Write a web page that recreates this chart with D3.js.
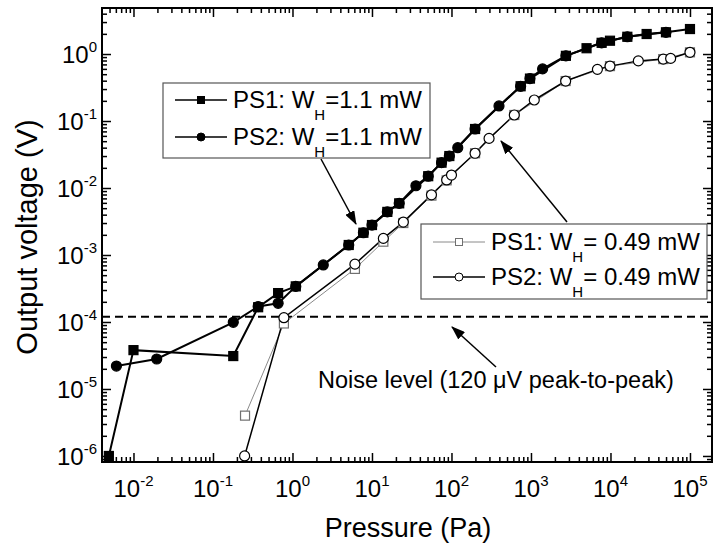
<!DOCTYPE html>
<html>
<head>
<meta charset="utf-8">
<script src="https://cdn.jsdelivr.net/npm/d3@7"></script>
<style>
  body { margin: 0; background: #fff; }
  svg { display: block; }
  text { font-family: Arial, "Liberation Sans", sans-serif; fill: #000; }
</style>
</head>
<body>
<svg id="chart" width="713" height="554"></svg>
<script>
// PS1, W_H = 1.1 mW (filled squares)
const ps1HighP = [0.0049, 0.010, 0.18, 0.37, 0.66, 1.1, 5.1, 7.8, 10, 15.6, 22, 51, 75, 94, 198, 741, 971, 2750, 5000, 7740, 9860, 16300, 28500, 49900, 100000];
const ps1HighV = [1.0e-6, 3.8e-5, 3.1e-5, 1.66e-4, 2.7e-4, 3.4e-4, 1.41e-3, 2.15e-3, 2.8e-3, 4.4e-3, 5.9e-3, 1.5e-2, 2.39e-2, 3.0e-2, 7.6e-2, 0.33, 0.43, 0.94, 1.22, 1.47, 1.58, 1.81, 1.99, 2.11, 2.36];
// PS2, W_H = 1.1 mW (filled circles)
const ps2HighP = [0.0061, 0.0196, 0.18, 0.37, 0.66, 1.1, 2.44, 5.1, 7.8, 10, 15.6, 22, 35.7, 51, 75, 94, 120, 198, 396, 741, 971, 1400, 2750, 7740, 16300, 49900];
const ps2HighV = [2.2e-5, 2.8e-5, 9.9e-5, 1.7e-4, 1.9e-4, 3.4e-4, 7.1e-4, 1.41e-3, 2.15e-3, 2.8e-3, 4.4e-3, 5.9e-3, 1.08e-2, 1.5e-2, 2.39e-2, 3.0e-2, 4.0e-2, 7.6e-2, 0.168, 0.33, 0.43, 0.60, 0.94, 1.47, 1.81, 2.11];
// PS1, W_H = 0.49 mW (open squares, grey)
const ps1LowP = [0.253, 0.78, 6.1, 13.9, 24.8, 56, 87, 198, 617, 2730, 9860, 46100, 100000];
const ps1LowV = [4.0e-6, 9.5e-5, 6.2e-4, 1.58e-3, 3.0e-3, 7.7e-3, 1.3e-2, 3.3e-2, 0.123, 0.395, 0.66, 0.84, 1.06];
// PS2, W_H = 0.49 mW (open circles)
const ps2LowP = [0.25, 0.78, 6.1, 13.9, 24.8, 56, 87, 100, 198, 297, 617, 1100, 2730, 6850, 9860, 22400, 46100, 57100, 100000];
const ps2LowV = [1.0e-6, 1.16e-4, 7.3e-4, 1.77e-3, 3.1e-3, 7.9e-3, 1.32e-2, 1.56e-2, 3.3e-2, 5.5e-2, 0.123, 0.206, 0.395, 0.59, 0.66, 0.79, 0.84, 0.86, 1.06];

const noiseLevel = 1.2e-4;
const xExponents = [-2, -1, 0, 1, 2, 3, 4, 5];
const yExponents = [-6, -5, -4, -3, -2, -1, 0];

const svg = d3.select('#chart');
const plotL = 102, plotR = 712, plotT = 8, plotB = 462;

const x = d3.scaleLog().domain([Math.pow(10, -2.396), Math.pow(10, 5.277)]).range([plotL, plotR]);
const y = d3.scaleLog().domain([Math.pow(10, -6.09), Math.pow(10, 0.687)]).range([plotB, plotT]);

const minorOf = (scale, exps) => {
    const [lo, hi] = scale.domain();
    const out = [];
    for (let e = exps[0] - 1; e <= exps[exps.length - 1]; e++) {
        for (let m = 2; m <= 9; m++) {
            const v = m * Math.pow(10, e);
            if (v > lo && v < hi) out.push(v);
        }
    }
    return out;
};
const xMajor = xExponents.map(e => Math.pow(10, e));
const yMajor = yExponents.map(e => Math.pow(10, e));
const xMinor = minorOf(x, xExponents);
const yMinor = minorOf(y, yExponents);

const drawAxis = (axisFn, scale, transform) => {
    const majors = scale === x ? xMajor : yMajor;
    const minors = scale === x ? xMinor : yMinor;
    [[majors, 9], [minors, 5]].forEach(([vals, len]) => {
        svg.append('g')
            .attr('transform', transform)
            .call(axisFn(scale).tickValues(vals).tickSize(-len).tickFormat(''))
            .call(g => g.select('.domain').remove())
            .call(g => g.selectAll('line').attr('stroke', '#000').attr('stroke-width', 1.5));
    });
};
drawAxis(d3.axisBottom, x, `translate(0,${plotB})`);
drawAxis(d3.axisTop, x, `translate(0,${plotT})`);
drawAxis(d3.axisLeft, y, `translate(${plotL},0)`);
drawAxis(d3.axisRight, y, `translate(${plotR},0)`);

svg.append('rect')
    .attr('x', plotL).attr('y', plotT)
    .attr('width', plotR - plotL).attr('height', plotB - plotT)
    .attr('fill', 'none').attr('stroke', '#000').attr('stroke-width', 2);

// tick labels
xExponents.forEach(e => {
    const t = svg.append('text')
        .attr('x', x(Math.pow(10, e)))
        .attr('y', 497)
        .attr('text-anchor', 'middle')
        .attr('font-size', 24);
    t.append('tspan').text('10');
    t.append('tspan').text(e).attr('font-size', 15).attr('dy', -11);
});
yExponents.forEach(e => {
    const t = svg.append('text')
        .attr('x', 97)
        .attr('y', y(Math.pow(10, e)) + 9)
        .attr('text-anchor', 'end')
        .attr('font-size', 24);
    t.append('tspan').text('10');
    t.append('tspan').text(e).attr('font-size', 15).attr('dy', -11);
});

svg.append('text')
    .attr('x', 408).attr('y', 537)
    .attr('text-anchor', 'middle')
    .attr('font-size', 27)
    .text('Pressure (Pa)');
svg.append('text')
    .attr('transform', `translate(37,${(plotT + plotB) / 2 + 2}) rotate(-90)`)
    .attr('text-anchor', 'middle')
    .attr('font-size', 29)
    .text('Output voltage (V)');

// noise level
svg.append('line')
    .attr('x1', plotL).attr('x2', plotR)
    .attr('y1', y(noiseLevel)).attr('y2', y(noiseLevel))
    .attr('stroke', '#000').attr('stroke-width', 2)
    .attr('stroke-dasharray', '8,5');

const line = d3.line().x(d => x(d[0])).y(d => y(d[1]));
const pairs = (ps, vs) => ps.map((p, i) => [p, vs[i]]);

const series = [
    { data: pairs(ps1LowP, ps1LowV), stroke: '#8a8a8a', width: 1, shape: 'square', fill: '#fff', mstroke: '#707070' },
    { data: pairs(ps2LowP, ps2LowV), stroke: '#000', width: 1.5, shape: 'circle', fill: '#fff', mstroke: '#000' },
    { data: pairs(ps1HighP, ps1HighV), stroke: '#000', width: 2, shape: 'square', fill: '#000', mstroke: '#000' },
    { data: pairs(ps2HighP, ps2HighV), stroke: '#000', width: 2, shape: 'circle', fill: '#000', mstroke: '#000' }
];

series.forEach(s => {
    svg.append('path')
        .attr('d', line(s.data))
        .attr('fill', 'none')
        .attr('stroke', s.stroke)
        .attr('stroke-width', s.width);
});
series.forEach(s => {
    const g = svg.append('g');
    if (s.shape === 'square') {
        g.selectAll('rect').data(s.data).enter().append('rect')
            .attr('x', d => x(d[0]) - 4.5).attr('y', d => y(d[1]) - 4.5)
            .attr('width', 9).attr('height', 9)
            .attr('fill', s.fill).attr('stroke', s.mstroke).attr('stroke-width', 1.2);
    } else {
        g.selectAll('circle').data(s.data).enter().append('circle')
            .attr('cx', d => x(d[0])).attr('cy', d => y(d[1]))
            .attr('r', 5)
            .attr('fill', s.fill).attr('stroke', s.mstroke).attr('stroke-width', 1.2);
    }
});

// legends
const legend = (bx, by, bw, bh, rows) => {
    const g = svg.append('g');
    g.append('rect').attr('x', bx).attr('y', by).attr('width', bw).attr('height', bh)
        .attr('fill', '#fff').attr('stroke', '#555').attr('stroke-width', 1.2);
    rows.forEach(r => {
        g.append('line').attr('x1', r.x0).attr('x2', r.x0 + 52)
            .attr('y1', r.y).attr('y2', r.y)
            .attr('stroke', r.stroke).attr('stroke-width', r.width);
        if (r.shape === 'square') {
            g.append('rect').attr('x', r.x0 + 26 - 3.5).attr('y', r.y - 3.5)
                .attr('width', 7).attr('height', 7)
                .attr('fill', r.fill).attr('stroke', r.mstroke).attr('stroke-width', 1);
        } else {
            g.append('circle').attr('cx', r.x0 + 26).attr('cy', r.y).attr('r', 4)
                .attr('fill', r.fill).attr('stroke', r.mstroke).attr('stroke-width', 1);
        }
        const t = g.append('text').attr('x', r.x0 + 58).attr('y', r.y + 8).attr('font-size', 24);
        t.append('tspan').text(r.name + ': W');
        t.append('tspan').text('H').attr('font-size', 15).attr('dy', 12);
        t.append('tspan').text(r.power).attr('dy', -12);
    });
};
legend(163, 83, 267, 75, [
    { x0: 175, y: 100, name: 'PS1', power: '=1.1 mW', shape: 'square', fill: '#000', mstroke: '#000', stroke: '#000', width: 1.5 },
    { x0: 175, y: 137, name: 'PS2', power: '=1.1 mW', shape: 'circle', fill: '#000', mstroke: '#000', stroke: '#000', width: 1.5 }
]);
legend(421, 224, 286, 75, [
    { x0: 433, y: 242, name: 'PS1', power: '= 0.49 mW', shape: 'square', fill: '#fff', mstroke: '#707070', stroke: '#8a8a8a', width: 1 },
    { x0: 433, y: 277, name: 'PS2', power: '= 0.49 mW', shape: 'circle', fill: '#fff', mstroke: '#000', stroke: '#000', width: 1.5 }
]);

// arrows
svg.append('defs').append('marker')
    .attr('id', 'head')
    .attr('viewBox', '0 0 14 10')
    .attr('refX', 13).attr('refY', 5)
    .attr('markerWidth', 14).attr('markerHeight', 10)
    .attr('markerUnits', 'userSpaceOnUse')
    .attr('orient', 'auto')
    .append('path').attr('d', 'M0,0 L14,5 L0,10 Z').attr('fill', '#000');

const arrows = [
    [321, 159, 356, 224],
    [567, 222, 501, 141],
    [496, 367, 452, 327]
];
arrows.forEach(([x1, y1, x2, y2]) => {
    svg.append('line')
        .attr('x1', x1).attr('y1', y1).attr('x2', x2).attr('y2', y2)
        .attr('stroke', '#000').attr('stroke-width', 1.5)
        .attr('marker-end', 'url(#head)');
});

svg.append('text')
    .attr('x', 318).attr('y', 388)
    .attr('font-size', 23.5)
    .text('Noise level (120 \u03bcV peak-to-peak)');
</script>
</body>
</html>
